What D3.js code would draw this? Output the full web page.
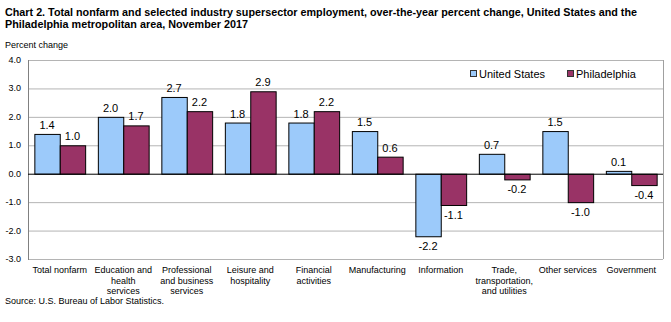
<!DOCTYPE html>
<html lang="en">
<head>
<meta charset="UTF-8" />
<script src="https://d3js.org/d3.v7.min.js"></script>
<title>Chart 2</title>
<style>
  body { margin: 0; background: #fff; }
  text { font-family: "Liberation Sans", Arial, sans-serif; fill: #000; }
</style>
</head>
<body>
<svg id="chart" width="671" height="322"></svg>
<script>
// data
var categories = [
  ["Total nonfarm"],
  ["Education and", "health", "services"],
  ["Professional", "and business", "services"],
  ["Leisure and", "hospitality"],
  ["Financial", "activities"],
  ["Manufacturing"],
  ["Information"],
  ["Trade,", "transportation,", "and utilities"],
  ["Other services"],
  ["Government"]
];
var seriesNames = ["United States", "Philadelphia"];
var usValues = [1.4, 2.0, 2.7, 1.8, 1.8, 1.5, -2.2, 0.7, 1.5, 0.1];
var phlValues = [1.0, 1.7, 2.2, 2.9, 2.2, 0.6, -1.1, -0.2, -1.0, -0.4];
var yTicks = [4, 3, 2, 1, 0, -1, -2, -3];

var colors = ["#9ccafa", "#993366"];

var svg = d3.select("#chart");

// plot area (note: "top" is taken by window.top)
var plotLeft = 28, plotRight = 663, plotTop = 60, plotBottom = 259;

var x = d3.scaleBand()
  .domain(d3.range(categories.length))
  .range([plotLeft, plotRight])
  .paddingInner(0.2)
  .paddingOuter(0.1);

var x1 = d3.scaleBand()
  .domain([0, 1])
  .range([0, x.bandwidth()]);

var y = d3.scaleLinear()
  .domain([-3, 4])
  .range([plotBottom, plotTop]);

var fmt = function(d){ return d3.format(".1f")(d).replace("−", "-"); };

// title
svg.append("text").attr("x", 5).attr("y", 16)
  .style("font-weight", "bold").style("font-size", "11px")
  .attr("textLength", 632).attr("lengthAdjust", "spacingAndGlyphs")
  .text("Chart 2. Total nonfarm and selected industry supersector employment, over-the-year percent change, United States and the");
svg.append("text").attr("x", 5).attr("y", 28)
  .style("font-weight", "bold").style("font-size", "11px")
  .attr("textLength", 243).attr("lengthAdjust", "spacingAndGlyphs")
  .text("Philadelphia metropolitan area, November 2017");

svg.append("text").attr("x", 5).attr("y", 48)
  .style("font-size", "9px")
  .text("Percent change");

// gridlines
svg.append("g").selectAll("line")
  .data(yTicks.filter(function(d){ return d !== 0; }))
  .enter().append("line")
  .attr("x1", plotLeft).attr("x2", plotRight)
  .attr("y1", function(d){ return y(d) + 0.5; })
  .attr("y2", function(d){ return y(d) + 0.5; })
  .attr("stroke", "#b4b4b4");

// right border
svg.append("line")
  .attr("x1", plotRight + 0.5).attr("x2", plotRight + 0.5)
  .attr("y1", plotTop).attr("y2", plotBottom)
  .attr("stroke", "#a0a0a0");

// y tick labels
svg.append("g").selectAll("text")
  .data(yTicks)
  .enter().append("text")
  .attr("x", 21)
  .attr("y", function(d){ return y(d) + 3; })
  .attr("text-anchor", "end")
  .style("font-size", "9px")
  .text(fmt);

// bars
var groups = svg.append("g").selectAll("g")
  .data(categories.map(function(c, i){ return [usValues[i], phlValues[i]]; }))
  .enter().append("g")
  .attr("transform", function(d, i){ return "translate(" + x(i) + ",0)"; });

groups.selectAll("rect")
  .data(function(d){ return d; })
  .enter().append("rect")
  .attr("x", function(d, j){ return x1(j) + 0.5; })
  .attr("y", function(d){ return Math.min(y(d), y(0)) + 0.5; })
  .attr("width", x1.bandwidth())
  .attr("height", function(d){ return Math.abs(y(d) - y(0)); })
  .attr("fill", function(d, j){ return colors[j]; })
  .attr("stroke", "#000")
  .attr("stroke-width", 1);

groups.selectAll("text")
  .data(function(d){ return d; })
  .enter().append("text")
  .attr("x", function(d, j){ return x1(j) + x1.bandwidth() / 2; })
  .attr("y", function(d){ return d >= 0 ? y(d) - 5 : y(d) + 14; })
  .attr("text-anchor", "middle")
  .style("font-size", "11px")
  .text(fmt);

// left axis and zero line
svg.append("line")
  .attr("x1", plotLeft + 0.5).attr("x2", plotLeft + 0.5)
  .attr("y1", plotTop).attr("y2", plotBottom + 1)
  .attr("stroke", "#808080");
svg.append("line")
  .attr("x1", plotLeft).attr("x2", plotRight)
  .attr("y1", y(0) + 0.5).attr("y2", y(0) + 0.5)
  .attr("stroke", "#000");

// category labels
var labels = svg.append("g").selectAll("text")
  .data(categories)
  .enter().append("text")
  .attr("x", function(d, i){ return x(i) + x.bandwidth() / 2; })
  .attr("y", 273)
  .attr("text-anchor", "middle")
  .style("font-size", "9px");
labels.selectAll("tspan")
  .data(function(d){ return d; })
  .enter().append("tspan")
  .attr("x", function(){ return this.parentNode.getAttribute("x"); })
  .attr("dy", function(d, k){ return k === 0 ? 0 : 10.5; })
  .text(function(d){ return d; });

// legend
var legendX = [470, 567];
var legend = svg.append("g").selectAll("g")
  .data(seriesNames)
  .enter().append("g")
  .attr("transform", function(d, i){ return "translate(" + legendX[i] + ",70)"; });
legend.append("rect")
  .attr("x", 0.5).attr("y", 0.5).attr("width", 6).attr("height", 6)
  .attr("fill", function(d, i){ return colors[i]; })
  .attr("stroke", "#333");
legend.append("text")
  .attr("x", 9).attr("y", 8)
  .style("font-size", "11px")
  .text(function(d){ return d; });

svg.append("text").attr("x", 5).attr("y", 304)
  .style("font-size", "9px")
  .text("Source: U.S. Bureau of Labor Statistics.");
</script>
</body>
</html>
